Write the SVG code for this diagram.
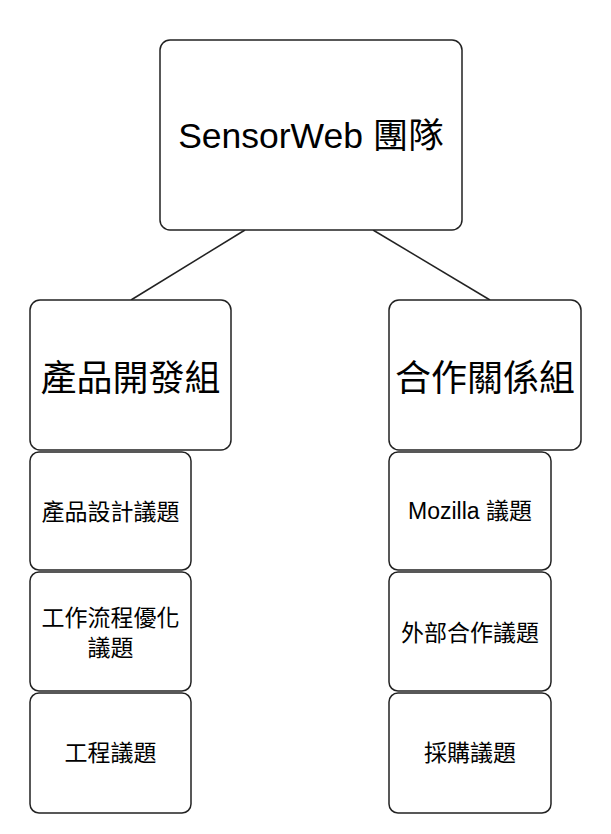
<svg xmlns="http://www.w3.org/2000/svg" width="611" height="834" viewBox="0 0 611 834">
<style>
.box{fill:#fff;stroke:#222;stroke-width:1.5}
.t{font-family:"Liberation Sans","Noto Sans CJK TC",sans-serif;fill:#000;text-anchor:middle}
.c{stroke:#222;stroke-width:1.5;fill:none}
</style>
<rect width="611" height="834" fill="#fff"/>
<g id="connectors">
<line class="c" x1="245" y1="230" x2="131" y2="300"/>
<line class="c" x1="373" y1="230" x2="490" y2="300"/>
</g>
<g id="root">
<rect class="box" x="160" y="40" width="302" height="190" rx="10"/>
<text class="t" x="311" y="147.5" font-size="35.5">SensorWeb 團隊</text>
</g>
<g id="group-left">
<rect class="box" x="30" y="300" width="201" height="150" rx="10"/>
<text class="t" x="130.5" y="391" font-size="36">產品開發組</text>
</g>
<g id="group-right">
<rect class="box" x="389" y="300" width="192" height="150" rx="10"/>
<text class="t" x="485" y="391" font-size="36">合作關係組</text>
</g>
<g id="left-1">
<rect class="box" x="30" y="452" width="161" height="118" rx="9"/>
<text class="t" x="110.5" y="520" font-size="23">產品設計議題</text>
</g>
<g id="left-2">
<rect class="box" x="30" y="572" width="161" height="119" rx="9"/>
<text class="t" x="110.5" y="626" font-size="23">工作流程優化</text>
<text class="t" x="110.5" y="656" font-size="23">議題</text>
</g>
<g id="left-3">
<rect class="box" x="30" y="693" width="161" height="120" rx="9"/>
<text class="t" x="110.5" y="761" font-size="23">工程議題</text>
</g>
<g id="right-1">
<rect class="box" x="389" y="452" width="162" height="118" rx="9"/>
<text class="t" x="470" y="519" font-size="23">Mozilla 議題</text>
</g>
<g id="right-2">
<rect class="box" x="389" y="572" width="162" height="119" rx="9"/>
<text class="t" x="470" y="641" font-size="23">外部合作議題</text>
</g>
<g id="right-3">
<rect class="box" x="389" y="693" width="162" height="120" rx="9"/>
<text class="t" x="470" y="761" font-size="23">採購議題</text>
</g>
</svg>
